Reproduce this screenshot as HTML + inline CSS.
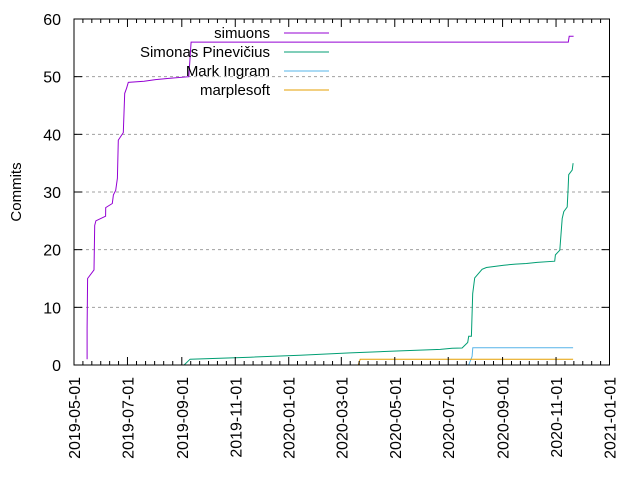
<!DOCTYPE html>
<html><head><meta charset="utf-8"><style>
html,body{margin:0;padding:0;background:#fff}
svg{display:block;font-family:"Liberation Sans",sans-serif}
</style></head><body>
<svg id="chart" width="640" height="480" viewBox="0 0 640 480">
<g id="grid"></g>
<g id="series"></g>
<g id="axes"></g>
<g id="legend"></g>
<text x="21" y="192" font-size="15" text-anchor="middle" transform="rotate(-90 21 192)">Commits</text>
</svg>
<script>
// x values are days since 2019-05-01
const xTickLabels = ["2019-05-01","2019-07-01","2019-09-01","2019-11-01","2020-01-01","2020-03-01","2020-05-01","2020-07-01","2020-09-01","2020-11-01","2021-01-01"];
const yTickValues = [0,10,20,30,40,50,60];
const seriesNames = ["simuons","Simonas Pinevičius","Mark Ingram","marplesoft"];
const seriesColors = ["#9400d3","#009e73","#56b4e9","#e69f00"];
const simuonsDays = [15,15,15.5,22.8,23.6,25,36,36.2,43.7,44.9,47.6,49.5,50.6,56.3,57.9,60,62,80,93,108,131,133.6,564,565,570];
const simuonsValues = [1,6.4,15,16.5,24.2,25,25.8,27.3,28,29.5,30.3,32.4,39,40.3,47.1,48,49,49.2,49.5,49.7,50,56,56,57,57];
const simonasDays = [125.6,132.5,201,258,315,372,418,431.4,442.8,449.2,450.3,453.4,454.2,454.9,457.2,465.6,470.5,490.3,503.7,516.2,528.4,548.5,549.3,554.3,557,558.8,562.7,563.8,564.5,568.4,569.5];
const simonasValues = [0,1,1.35,1.7,2.1,2.45,2.7,2.9,2.95,3.9,5,5,9,12.4,15.1,16.6,16.9,17.3,17.5,17.6,17.8,18,19.1,19.9,25.4,26.6,27.4,30.5,33,33.8,35];
const markDays = [450.3,454.2,455,569.5];
const markValues = [0,1.5,3,3];
const marpleDays = [324.3,326.6,569.5];
const marpleValues = [0,1,1];

const X0=74,X1=609.5,Y0=365,Y1=19;
const startMs=Date.UTC(2019,4,1), endMs=Date.UTC(2021,0,1);
const totalDays=(endMs-startMs)/864e5;
function xs(d){return X0+(X1-X0)*d/totalDays;}
function ys(v){return Y0-(Y0-Y1)*v/60;}
function dayOf(s){const p=s.split('-');return (Date.UTC(+p[0],+p[1]-1,+p[2])-startMs)/864e5;}
const NS="http://www.w3.org/2000/svg";
function mk(tag,attrs,parent){const e=document.createElementNS(NS,tag);for(const k in attrs)e.setAttribute(k,attrs[k]);parent.appendChild(e);return e;}
const grid=document.getElementById('grid'),axes=document.getElementById('axes'),series=document.getElementById('series'),legend=document.getElementById('legend');

yTickValues.forEach(v=>{
  const y=ys(v);
  if(v>0&&v<60){const g=mk('line',{x1:X0,x2:X1,y1:y,y2:y,stroke:'#a0a0a0','stroke-width':1,'stroke-dasharray':'3,3'},grid);
  
  }
  const t1=mk('line',{x1:X0,x2:X0+8,y1:y,y2:y,stroke:'#000'},axes);
  
  
  const t2=mk('line',{x1:X1,x2:X1-8,y1:y,y2:y,stroke:'#000'},axes);
  
  
  const tx=mk('text',{x:61,y:y+6,'font-size':16,'text-anchor':'end'},axes);
  tx.textContent=v;
  
  
});
xTickLabels.forEach((s,i)=>{
  const d=dayOf(s),x=xs(d);
  [[Y0,Y0-8],[Y1,Y1+8]].forEach(p=>{const t=mk('line',{x1:x,x2:x,y1:p[0],y2:p[1],stroke:'#000'},axes);
  
  });
  if(i<xTickLabels.length-1){
    const nd=dayOf(xTickLabels[i+1]);
    for(let k=1;k<6;k++){const mx=xs(d+(nd-d)*k/6);
      [[Y0,Y0-4],[Y1,Y1+4]].forEach(p=>{const t=mk('line',{x1:mx,x2:mx,y1:p[0],y2:p[1],stroke:'#000'},axes);
      
      });}
  }
  const tx=mk('text',{x:x+6,y:377,'font-size':16,'text-anchor':'end',transform:`rotate(-90 ${x+6} 377)`},axes);
  tx.textContent=s;
  
  
});
const frame=mk('rect',{x:X0,y:Y1,width:X1-X0,height:Y0-Y1,fill:'none',stroke:'#000','stroke-width':1},axes);



const allDays=[simuonsDays,simonasDays,markDays,marpleDays];
const allVals=[simuonsValues,simonasValues,markValues,marpleValues];
const lineNames=['simuons-line','simonas-line','mark-ingram-line','marplesoft-line'];
allDays.forEach((ds,i)=>{
  const pts=ds.map((d,j)=>xs(d).toFixed(1)+','+ys(allVals[i][j]).toFixed(1)).join(' ');
  const pl=mk('polyline',{points:pts,fill:'none',stroke:seriesColors[i],'stroke-width':1},series);
  
  
});
seriesNames.forEach((n,i)=>{
  const y=33+i*19;
  const t=mk('text',{x:270,y:y+5,'font-size':15,'text-anchor':'end'},legend);
  t.textContent=n;
  
  
  const l=mk('line',{x1:284,x2:329,y1:y,y2:y,stroke:seriesColors[i],'stroke-width':1},legend);
  
  
});
</script>
</body></html>
